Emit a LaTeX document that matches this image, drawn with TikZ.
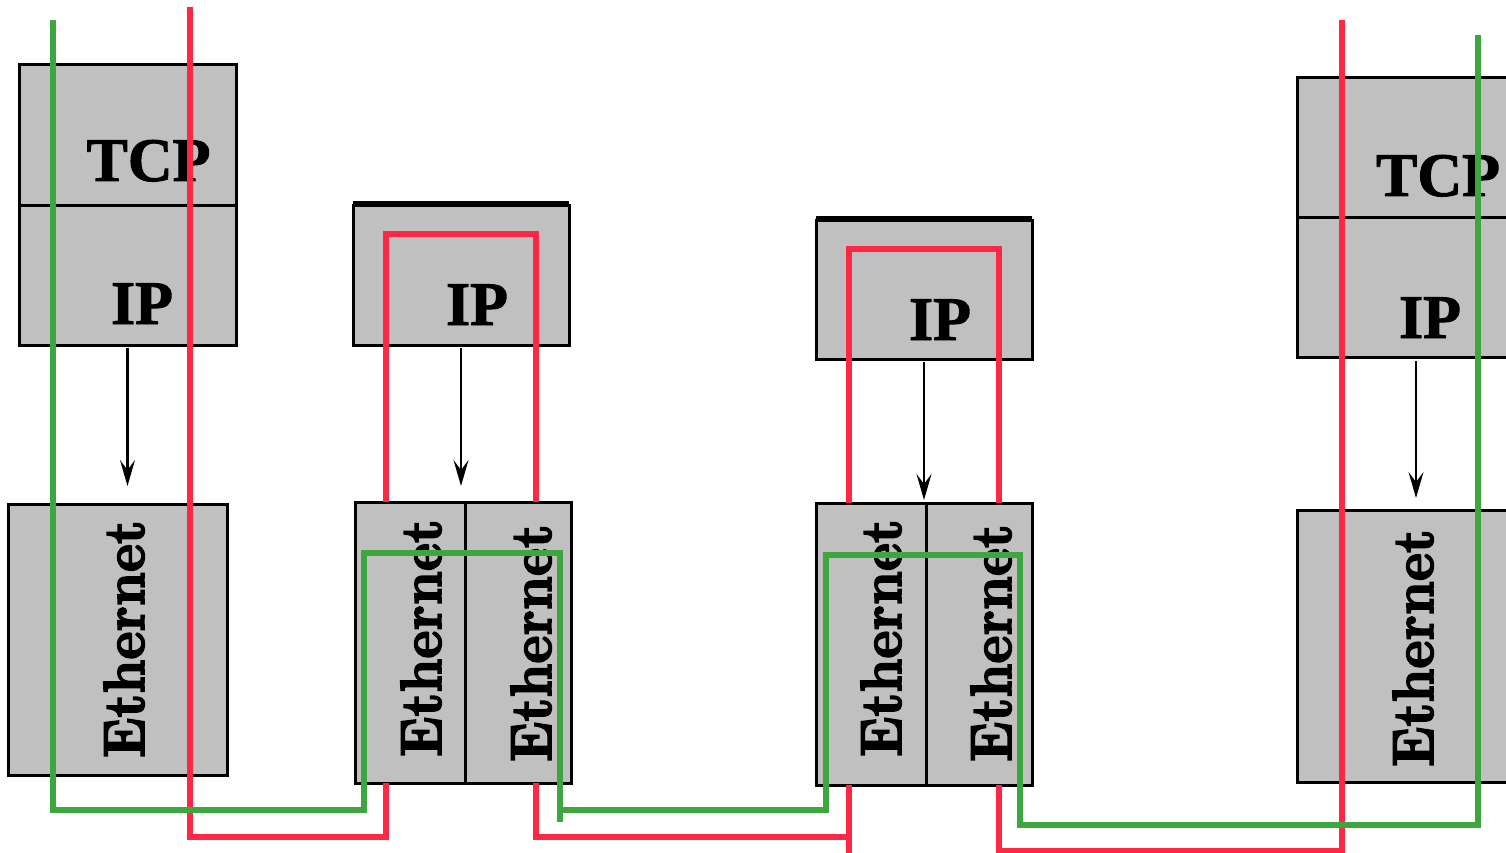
\documentclass[tikz,border=0pt]{standalone}
\usepackage{fontspec}
\usepackage{graphicx}
\newfontfamily\timesbold{Liberation Serif Bold}[FakeBold=1.5]
\newfontfamily\ethfont{lmroman10-bold.otf}[FakeBold=3]
\usetikzlibrary{arrows.meta}
\definecolor{boxgray}{RGB}{192,192,192}
\definecolor{pathred}{RGB}{255,40,68}
\definecolor{pathgreen}{RGB}{62,166,62}
\tikzset{
  layerbox/.style={draw=black, fill=boxgray, line width=3pt, rectangle, inner sep=0pt, outer sep=0pt},
  tlabel/.style={font=\timesbold\fontsize{62}{70}\selectfont, inner sep=0pt, anchor=base},
  elabel/.style={rotate=90, anchor=base, inner sep=0pt},
  downarrow/.style={draw=black, line width=2.4pt, -{Stealth[length=26pt,width=15pt,inset=10pt]}},
  redroute/.style={draw=pathred, line width=5.5pt},
  greenroute/.style={draw=pathgreen, line width=5.5pt},
  topedge/.style={draw=black, line width=3.5pt},
}
\newcommand{\ethtext}{\scalebox{0.92}[1]{\ethfont\fontsize{58}{60}\selectfont Ethernet}}
\begin{document}
\begin{tikzpicture}[x=1pt,y=-1pt]
\useasboundingbox (0,0) rectangle (1506,853);
\clip (0,0) rectangle (1506,853);
% upper boxes
\node[layerbox, minimum width=217pt, minimum height=140pt] (tcp1) at (127.5,135) {};
\node[layerbox, minimum width=217pt, minimum height=140pt] (ip1) at (127.5,275) {};
\node[layerbox, minimum width=216pt, minimum height=140pt] (ip2) at (461,275) {};
\node[layerbox, minimum width=216pt, minimum height=139pt] (ip3) at (924,289.5) {};
\node[layerbox, minimum width=238pt, minimum height=139pt] (tcp4) at (1416,147.5) {};
\node[layerbox, minimum width=238pt, minimum height=140pt] (ip4) at (1416,287) {};
\draw[topedge] ([yshift=2.5pt]ip2.north west) -- ([yshift=2.5pt]ip2.north east);
\draw[topedge] ([yshift=2.5pt]ip3.north west) -- ([yshift=2.5pt]ip3.north east);
% ethernet boxes
\node[layerbox, minimum width=219pt, minimum height=271pt] (eth1) at (117.5,639.5) {};
\node[layerbox, minimum width=110pt, minimum height=281pt] (eth2a) at (410,642.5) {};
\node[layerbox, minimum width=106pt, minimum height=281pt] (eth2b) at (518,642.5) {};
\node[layerbox, minimum width=110pt, minimum height=282pt] (eth3a) at (871,644) {};
\node[layerbox, minimum width=106pt, minimum height=282pt] (eth3b) at (979,644) {};
\node[layerbox, minimum width=238pt, minimum height=272pt] (eth4) at (1416,646) {};
% labels
\node[tlabel] (tcp1t) at (148.5,181) {TCP};
\node[tlabel] (ip1t) at (142,324) {IP};
\node[tlabel] (ip2t) at (477,325) {IP};
\node[tlabel] (ip3t) at (940,340) {IP};
\node[tlabel] (tcp4t) at (1438,196) {TCP};
\node[tlabel] (ip4t) at (1430,338) {IP};
\node[elabel] (eth1t) at (144,639) {\ethtext};
\node[elabel] (eth2at) at (441,638) {\ethtext};
\node[elabel] (eth2bt) at (551,643) {\ethtext};
\node[elabel] (eth3at) at (901,638) {\ethtext};
\node[elabel] (eth3bt) at (1011,643) {\ethtext};
\node[elabel] (eth4t) at (1433,648) {\ethtext};
% arrows
\draw[downarrow, shorten <=3pt, shorten >=18pt] (ip1.south) -- (ip1.south |- eth1.north);
\draw[downarrow, shorten <=3pt, shorten >=16pt] (ip2.south) -- (ip2.south |- eth2a.north);
\draw[downarrow, shorten <=3pt, shorten >=3pt] (ip3.south) -- (ip3.south |- eth3a.north);
\draw[downarrow, shorten <=4pt, shorten >=12pt] (ip4.south) -- (ip4.south |- eth4.north);
% red route
\draw[redroute] (190,7) -- (190,837) -- (386,837) -- (386,783);
\draw[redroute] (386,502) -- (386,234) -- (536,234) -- (536,502);
\draw[redroute] (536,783) -- (536,837) -- (849,837);
\draw[redroute] (849,856) -- (849,785);
\draw[redroute] (849,503) -- (849,249) -- (999,249) -- (999,503);
\draw[redroute] (999,785) -- (999,851) -- (1342,851) -- (1342,20);
% green route
\draw[greenroute] (53,20) -- (53,810) -- (364,810) -- (364,553) -- (560,553) -- (560,822);
\draw[greenroute] (560,810) -- (826,810) -- (826,555) -- (1020,555) -- (1020,825) -- (1478,825) -- (1478,35);
\end{tikzpicture}
\end{document}
